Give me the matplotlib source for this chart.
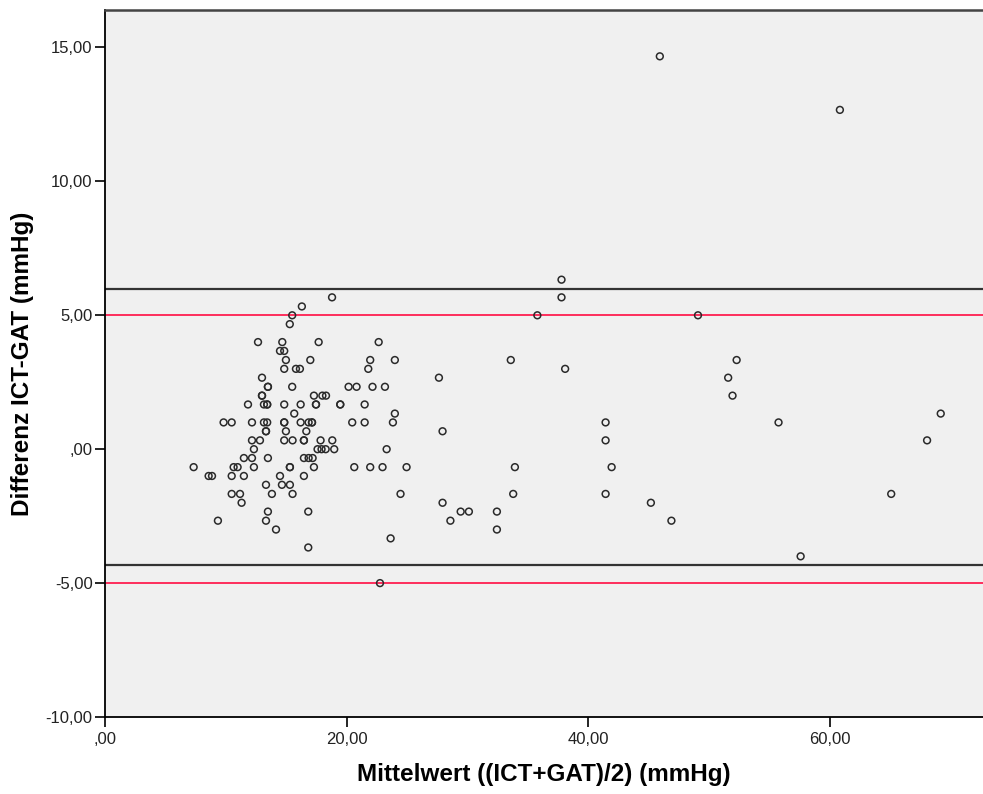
import matplotlib
matplotlib.use("Agg")
import matplotlib.pyplot as plt
from matplotlib.ticker import FuncFormatter

# Mittelwert ((ICT+GAT)/2) und Differenz ICT-GAT
mean_vals = [
    18.8, 16.3, 15.5, 15.3,
    12.67, 14.68, 17.69, 22.66,
    14.49, 14.84,
    14.98, 17.0, 21.96, 24.0,
    14.84, 15.81, 16.14, 21.8,
    13.0,
    13.49, 13.49, 15.5, 20.17, 20.83, 22.15, 23.18,
    13.0, 13.0, 17.3, 18.0, 18.3,
    11.84, 13.16, 13.43, 13.43, 14.84, 16.2, 17.47, 17.47, 19.48, 19.48, 21.5,
    15.67, 24.0,
    9.82, 10.49, 12.17, 13.16, 13.43, 14.84, 14.84, 16.2, 16.86, 17.14, 17.14, 20.47, 21.5, 23.84,
    13.33, 13.33, 14.98, 16.67,
    12.17, 12.83, 14.84, 15.53, 16.47, 16.47, 17.85, 18.82,
    12.33, 17.6, 17.93, 18.27, 18.98, 23.32,
    11.5, 12.17, 13.49, 16.47, 16.86, 17.19,
    7.34, 10.65, 10.98, 12.33, 15.31, 15.31, 17.3, 20.64, 21.96, 22.98, 24.97,
    8.58, 8.86, 10.49, 11.5, 14.49, 16.47,
    13.33, 14.65, 15.31,
    10.49, 11.18, 13.82, 15.53, 24.47,
    11.31,
    13.49, 16.83,
    9.35, 13.33,
    14.16,
    23.65,
    16.83,
    22.77,
    37.8, 37.8, 35.8, 33.6, 38.1, 27.65, 27.95, 41.45, 41.45, 33.94,
    41.95, 33.8, 41.45, 27.95, 28.6, 29.45, 30.13, 32.45, 32.45, 45.2,
    49.1, 52.3, 51.6, 51.96, 55.77, 69.2, 68.07, 65.1, 46.9, 57.6,
    45.94, 60.85,
]
diff_vals = [
    5.67, 5.33, 5.0, 4.67,
    4.0, 4.0, 4.0, 4.0,
    3.67, 3.67,
    3.33, 3.33, 3.33, 3.33,
    3.0, 3.0, 3.0, 3.0,
    2.67,
    2.33, 2.33, 2.33, 2.33, 2.33, 2.33, 2.33,
    2.0, 2.0, 2.0, 2.0, 2.0,
    1.67, 1.67, 1.67, 1.67, 1.67, 1.67, 1.67, 1.67, 1.67, 1.67, 1.67,
    1.33, 1.33,
    1.0, 1.0, 1.0, 1.0, 1.0, 1.0, 1.0, 1.0, 1.0, 1.0, 1.0, 1.0, 1.0, 1.0,
    0.67, 0.67, 0.67, 0.67,
    0.33, 0.33, 0.33, 0.33, 0.33, 0.33, 0.33, 0.33,
    0.0, 0.0, 0.0, 0.0, 0.0, 0.0,
    -0.33, -0.33, -0.33, -0.33, -0.33, -0.33,
    -0.67, -0.67, -0.67, -0.67, -0.67, -0.67, -0.67, -0.67, -0.67, -0.67, -0.67,
    -1.0, -1.0, -1.0, -1.0, -1.0, -1.0,
    -1.33, -1.33, -1.33,
    -1.67, -1.67, -1.67, -1.67, -1.67,
    -2.0,
    -2.33, -2.33,
    -2.67, -2.67,
    -3.0,
    -3.33,
    -3.67,
    -5.0,
    6.33, 5.67, 5.0, 3.33, 3.0, 2.67, 0.67, 1.0, 0.33, -0.67,
    -0.67, -1.67, -1.67, -2.0, -2.67, -2.33, -2.33, -2.33, -3.0, -2.0,
    5.0, 3.33, 2.67, 2.0, 1.0, 1.33, 0.33, -1.67, -2.67, -4.0,
    14.67, 12.67,
]

loa_lines = [6.0, -4.33]      # schwarze Linien
limit_lines = [5.0, -5.0]     # rote Linien
x_ticks = [0, 20, 40, 60]
y_ticks = [-10, -5, 0, 5, 10, 15]


def german_fmt(v, pos=None):
    s = f"{v:.2f}".replace(".", ",")
    if s.startswith("0,"):
        s = s[1:]
    return s


plt.rcParams["font.family"] = ["Liberation Sans", "DejaVu Sans"]

fig = plt.figure(figsize=(9.83, 7.94), dpi=100)
ax = fig.add_axes([105 / 983, 1 - 717 / 794, 1 - 105 / 983, (717 - 10) / 794])
ax.set_facecolor("#f0f0f0")

for y in loa_lines:
    ax.axhline(y, color="#333333", linewidth=1.6, zorder=2)
for y in limit_lines:
    ax.axhline(y, color="#ff1e50", linewidth=1.3, zorder=2)

ax.scatter(mean_vals, diff_vals, s=24, facecolors="none", edgecolors="#2a2a2a",
           linewidths=1.1, zorder=3)

ax.set_xlim(0, 72.7)
ax.set_ylim(-10, 16.4)
ax.set_xticks(x_ticks)
ax.set_yticks(y_ticks)
ax.xaxis.set_major_formatter(FuncFormatter(german_fmt))
ax.yaxis.set_major_formatter(FuncFormatter(german_fmt))
ax.tick_params(direction="out", length=7.5, width=1.2, labelsize=12, colors="black",
               labelcolor="#222222")
ax.tick_params(axis="x", pad=3)
ax.tick_params(axis="y", pad=1.5)

for side in ["left", "bottom"]:
    ax.spines[side].set_color("black")
    ax.spines[side].set_linewidth(1.3)
ax.spines["top"].set_color("#444444")
ax.spines["top"].set_linewidth(1.8)
ax.spines["right"].set_visible(False)

ax.set_xlabel("Mittelwert ((ICT+GAT)/2) (mmHg)", fontsize=17.5, fontweight="bold", labelpad=12)
ax.set_ylabel("Differenz ICT-GAT (mmHg)", fontsize=17.5, fontweight="bold", labelpad=8)

fig.savefig("out.png", dpi=100, facecolor="white")
